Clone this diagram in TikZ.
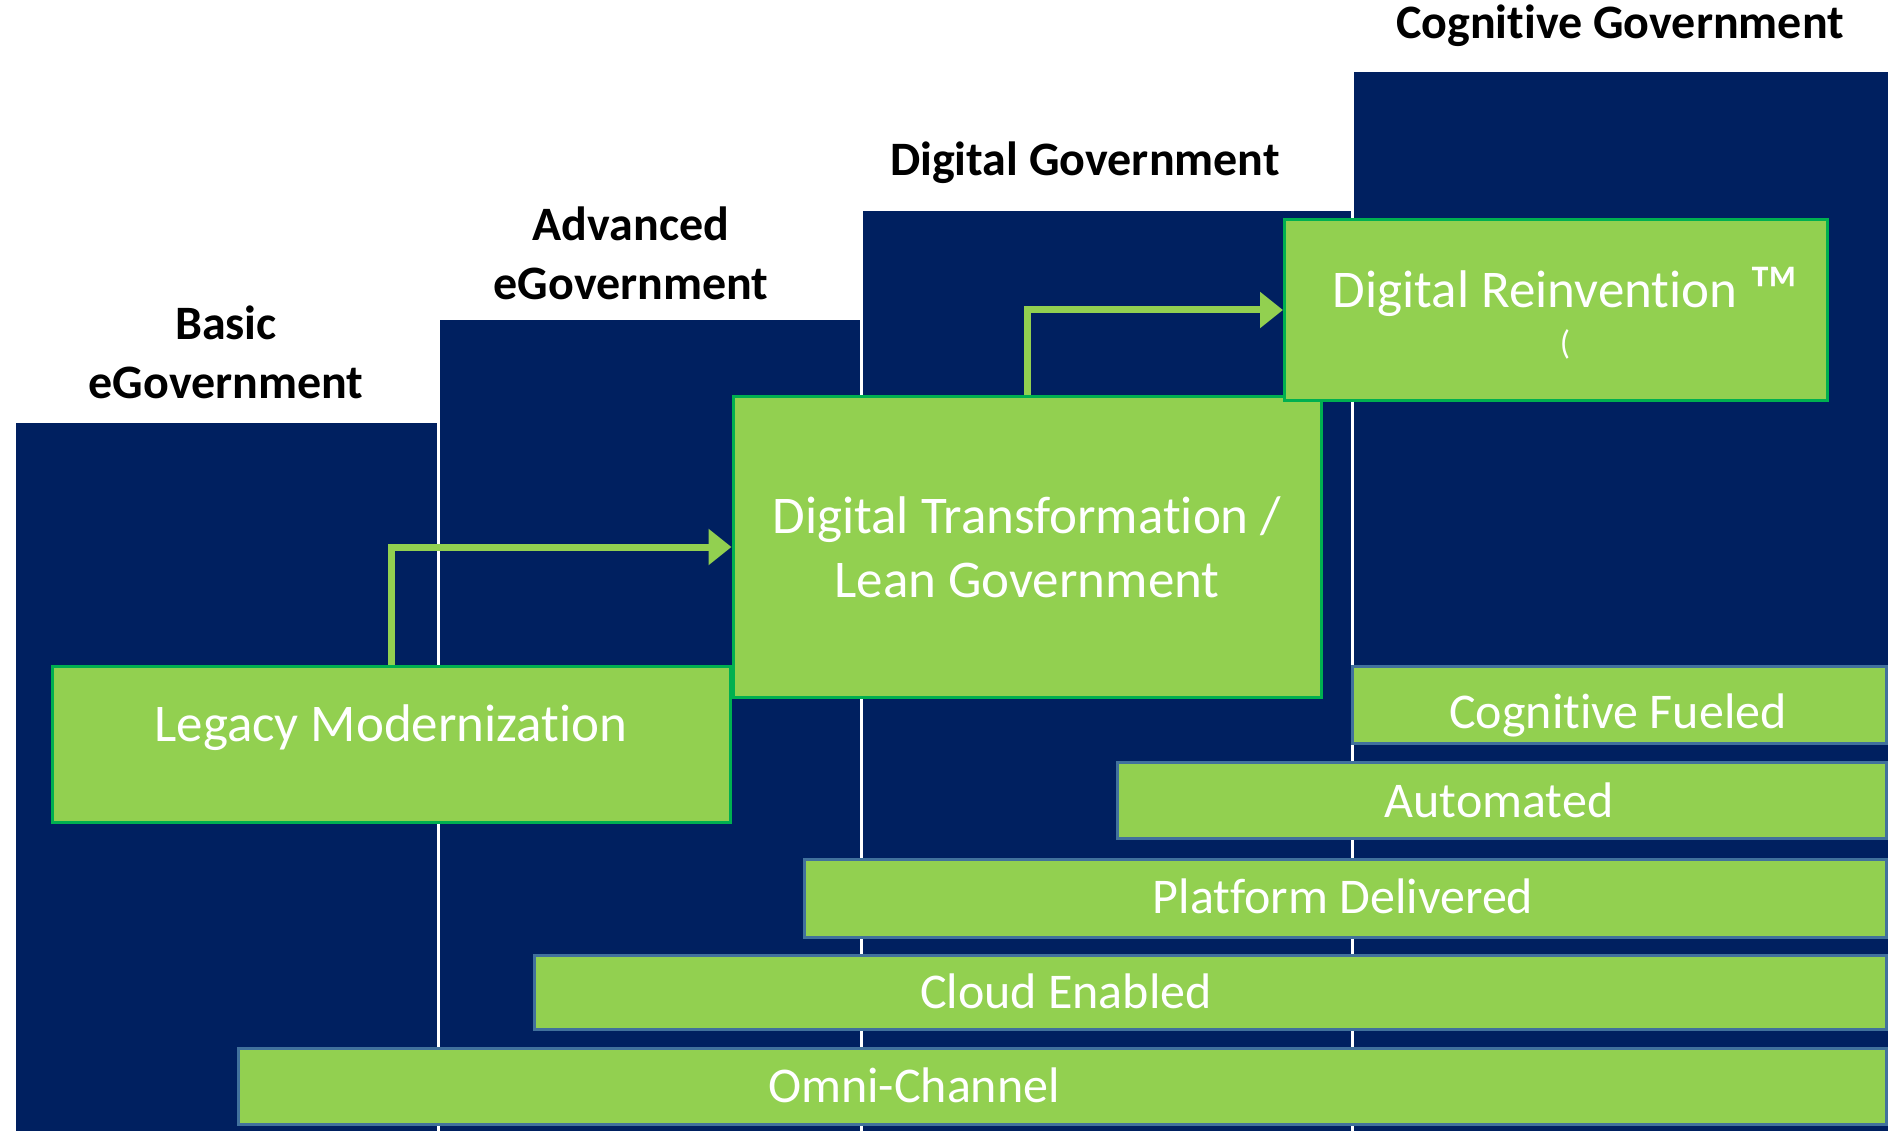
\documentclass[tikz,border=0pt]{standalone}
\usepackage{fontspec}
\setmainfont{Carlito}[Ligatures=NoCommon]
\usetikzlibrary{arrows.meta}
\definecolor{GovNavy}{HTML}{002060}
\definecolor{GovGreen}{HTML}{92D050}
\definecolor{GovEdge}{HTML}{00B050}
\definecolor{BarEdge}{HTML}{41719C}

\begin{document}
\begin{tikzpicture}[x=1pt,y=-1pt,
    stage/.style={draw=GovEdge,line width=3pt,fill=GovGreen,text=white,align=center,
      font=\fontsize{53}{64}\selectfont},
    stagetext/.style={text=white,anchor=base,inner sep=0pt,font=\fontsize{53}{64}\selectfont},
    bar/.style={draw=BarEdge,line width=2.5pt,fill=GovGreen,anchor=north west},
    bartext/.style={text=white,anchor=base,inner sep=0pt,font=\fontsize{50}{60}\selectfont},
    level/.style={align=center,font=\bfseries\fontsize{48}{59}\selectfont},
    flow/.style={GovGreen,line width=7pt,-{Triangle[length=23pt,width=35pt]}}]
  \useasboundingbox (0,0) rectangle (1888,1131);
  \foreach \xa/\xb/\ytop in {16/437/423,440/860/320,863/1351/211,1354/1888/72}{
    \fill[GovNavy] (\xa,\ytop) rectangle (\xb,1131);
  }
  \node[level] (basic) at (226,352) {Basic\\eGovernment};
  \node[level] (advanced) at (631,253) {Advanced\\eGovernment};
  \node[level,anchor=base] (digital) at (1085,176) {Digital Government};
  \node[level,anchor=base] (cognitive) at (1620,39) {Cognitive Government};

  \node[stage,minimum width=678,minimum height=156] (lm) at (391,744) {};
  \node[stagetext] (lm-t) at (391,741) {Legacy Modernization};
  \node[stage,minimum width=588,minimum height=300] (dt) at (1027,547)
    {Digital Transformation /\\Lean Government};
  \node[stage,minimum width=543,minimum height=181] (dr) at (1556,310) {};
  \node[stagetext] (dr-t) at (1566,308)
    {Digital Reinvention {\fontsize{70}{64}\selectfont\raisebox{-7pt}{™}}};
  \node[stagetext,font=\fontsize{34}{40}\selectfont] (dr-p) at (1565,355) {(};
  \foreach \name/\xl/\ytop/\w/\h/\xt/\yt/\txt in {
      cf/1351/665/534/77/1618/728/Cognitive Fueled,
      au/1116/761/769/76/1499/817/Automated,
      pd/803/858/1082/78/1343/913/Platform Delivered,
      ce/533/954/1352/74/1066/1008/Cloud Enabled,
      oc/237/1047/1648/76/914/1102/Omni-Channel}{
    \node[bar,minimum width=\w,minimum height=\h] (\name) at (\xl,\ytop) {};
    \node[bartext] (\name-t) at (\xt,\yt) {\txt};
  }

  \draw[flow] (lm.north) |- (dt.west);
  \draw[flow] (dt.north) |- (dr.west);
\end{tikzpicture}
\end{document}
